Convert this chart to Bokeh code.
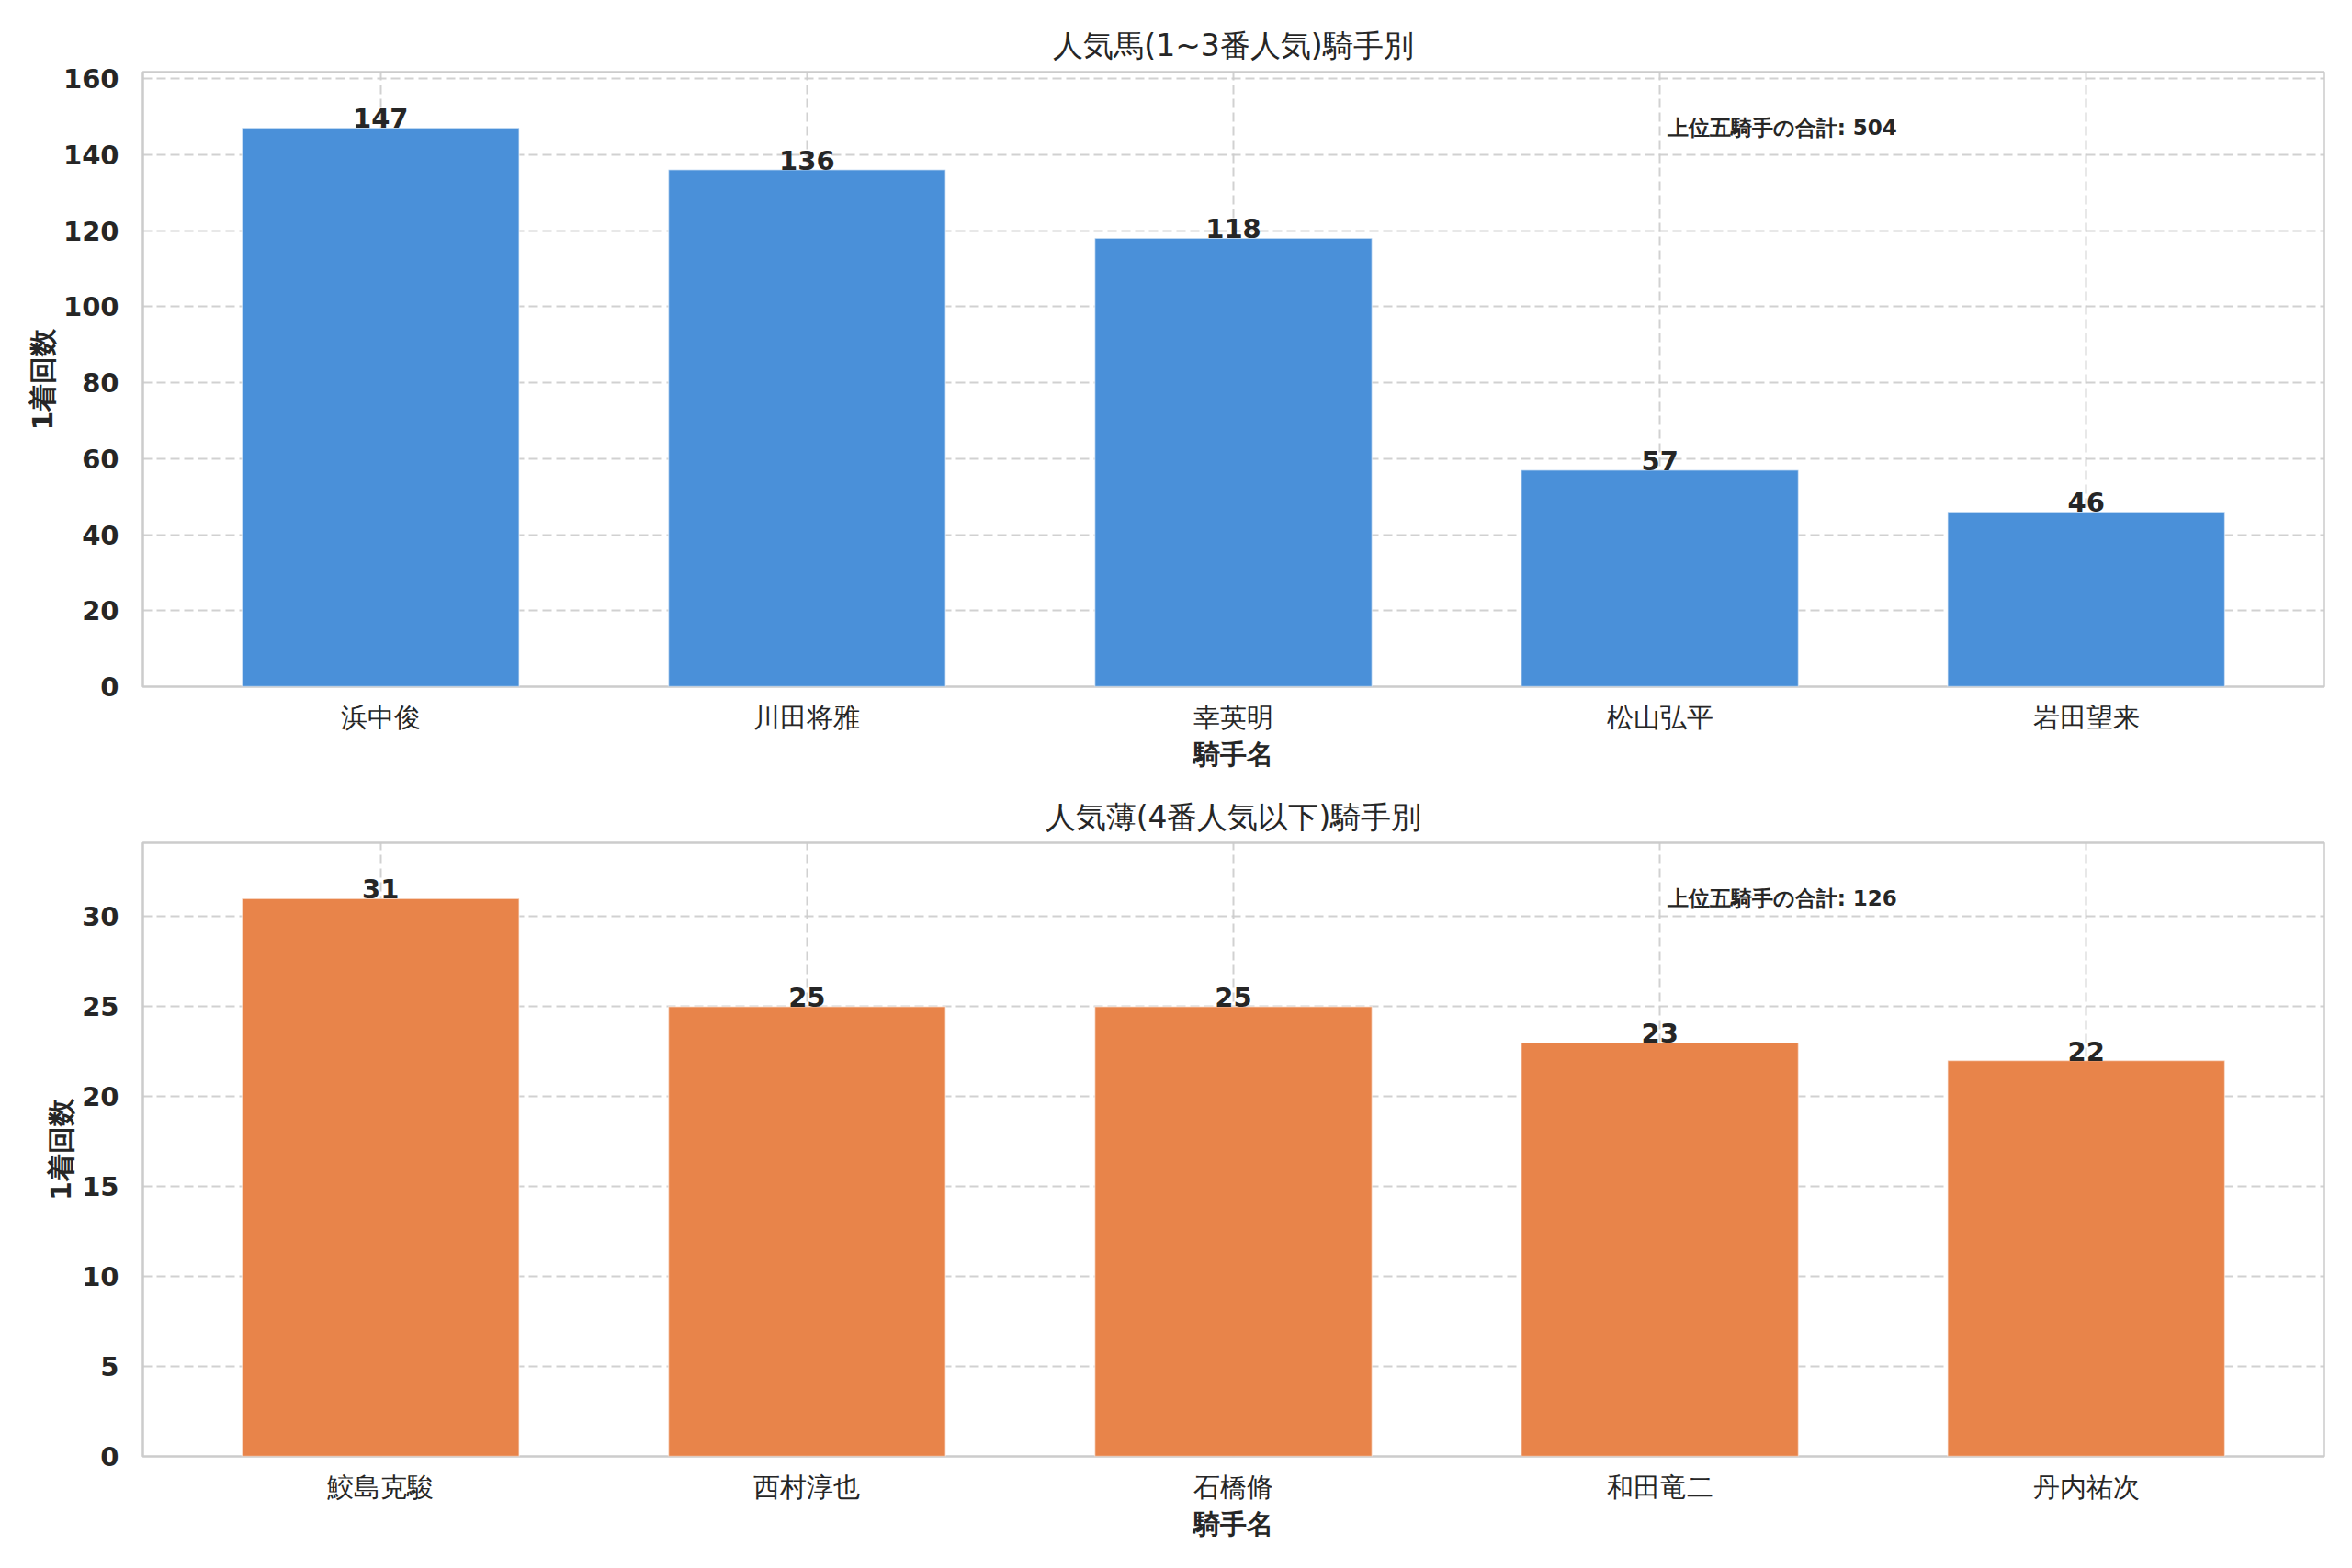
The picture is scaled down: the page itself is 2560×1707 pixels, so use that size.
from bokeh.plotting import figure
from bokeh.models import Range1d, FixedTicker, SingleIntervalTicker, ColumnDataSource
from bokeh.layouts import column
from bokeh.embed import file_html
from bokeh.resources import INLINE
from bokeh.core.properties import value

# ---- data ----
top_title = "人気馬(1~3番人気)騎手別"
top_names = ["浜中俊", "川田将雅", "幸英明", "松山弘平", "岩田望来"]
top_values = [147, 136, 118, 57, 46]

bottom_title = "人気薄(4番人気以下)騎手別"
bottom_names = ["鮫島克駿", "西村淳也", "石橋脩", "和田竜二", "丹内祐次"]
bottom_values = [31, 25, 25, 23, 22]

x_label = "騎手名"
y_label = "1着回数"
total_label = "上位五騎手の合計"

top_yticks = 20
bottom_yticks = 5

TXT = "#262626"
GRID = "#cccccc"
FONT = "DejaVu Sans"
FONT_V = value(FONT)


def make_chart(title, names, values, color, height, border_top, border_bottom, interval, standoff):
    n = len(values)
    bar_w = 0.65
    pad = 0.05 * (n - 1 + bar_w)
    xr = Range1d(-bar_w / 2 - pad, n - 1 + bar_w / 2 + pad)
    yr = Range1d(0, max(values) * 1.1)
    p = figure(width=2544, height=height, x_range=xr, y_range=yr,
               output_backend="svg", toolbar_location=None,
               min_border_left=155, min_border_right=15,
               min_border_top=border_top, min_border_bottom=border_bottom)
    p.background_fill_color = "white"
    p.border_fill_color = "white"
    p.outline_line_color = GRID
    p.outline_line_width = 2.5

    src = ColumnDataSource(dict(x=list(range(n)), top=values,
                                label=[str(v) for v in values]))
    p.vbar(x="x", top="top", width=bar_w, source=src, fill_color=color,
           line_color="white", line_width=1.5, line_alpha=0.5)
    p.text(x="x", y="top", text="label", source=src, text_align="center",
           text_baseline="bottom", text_font=FONT_V,
           text_font_size="29px", text_font_style="bold", text_color=TXT)
    p.text(x=[3.0], y=[max(values)], text=[f"{total_label}: {sum(values)}"],
           text_align="left", text_baseline="middle", text_font=FONT_V,
           x_offset=8, text_font_size="23px", text_font_style="bold", text_color=TXT)

    p.title.text = title
    p.title.align = "center"
    p.title.text_font = FONT
    p.title.text_font_size = "33px"
    p.title.text_font_style = "normal"
    p.title.text_color = TXT
    p.title.standoff = standoff

    p.xaxis.ticker = FixedTicker(ticks=list(range(n)))
    p.xaxis.major_label_overrides = {i: nm for i, nm in enumerate(names)}
    p.yaxis.ticker = SingleIntervalTicker(interval=interval)

    for ax in (p.xaxis[0], p.yaxis[0]):
        ax.axis_line_color = None
        ax.major_tick_line_color = None
        ax.minor_tick_line_color = None
        ax.major_tick_out = 0
        ax.major_tick_in = 0
        ax.major_label_text_font = FONT
        ax.major_label_text_color = TXT
        ax.axis_label_text_font = FONT
        ax.axis_label_text_color = TXT
        ax.axis_label_text_font_style = "bold"
    p.xaxis.major_label_text_font_size = "29px"
    p.xaxis.major_label_text_font_style = "normal"
    p.xaxis.major_label_standoff = 16
    p.xaxis.axis_label = x_label
    p.xaxis.axis_label_text_font_size = "29px"
    p.xaxis.axis_label_standoff = 3
    p.yaxis.major_label_text_font_size = "29px"
    p.yaxis.major_label_text_font_style = "bold"
    p.yaxis.major_label_standoff = 22
    p.yaxis.axis_label = y_label
    p.yaxis.axis_label_text_font_size = "30px"
    p.yaxis.axis_label_standoff = 2

    for g in (p.xgrid[0], p.ygrid[0]):
        g.grid_line_color = GRID
        g.grid_line_width = 2
        g.grid_line_dash = "10 5"
        g.grid_line_alpha = 0.9
    return p


p1 = make_chart(top_title, top_names, top_values, "#4a90d9", 848, 78, 101, top_yticks, 19)
p2 = make_chart(bottom_title, bottom_names, bottom_values, "#e8844a", 851, 69, 114, bottom_yticks, 18)

layout = column(p1, p2, spacing=0)
open("out.html", "w").write(file_html(layout, INLINE))
